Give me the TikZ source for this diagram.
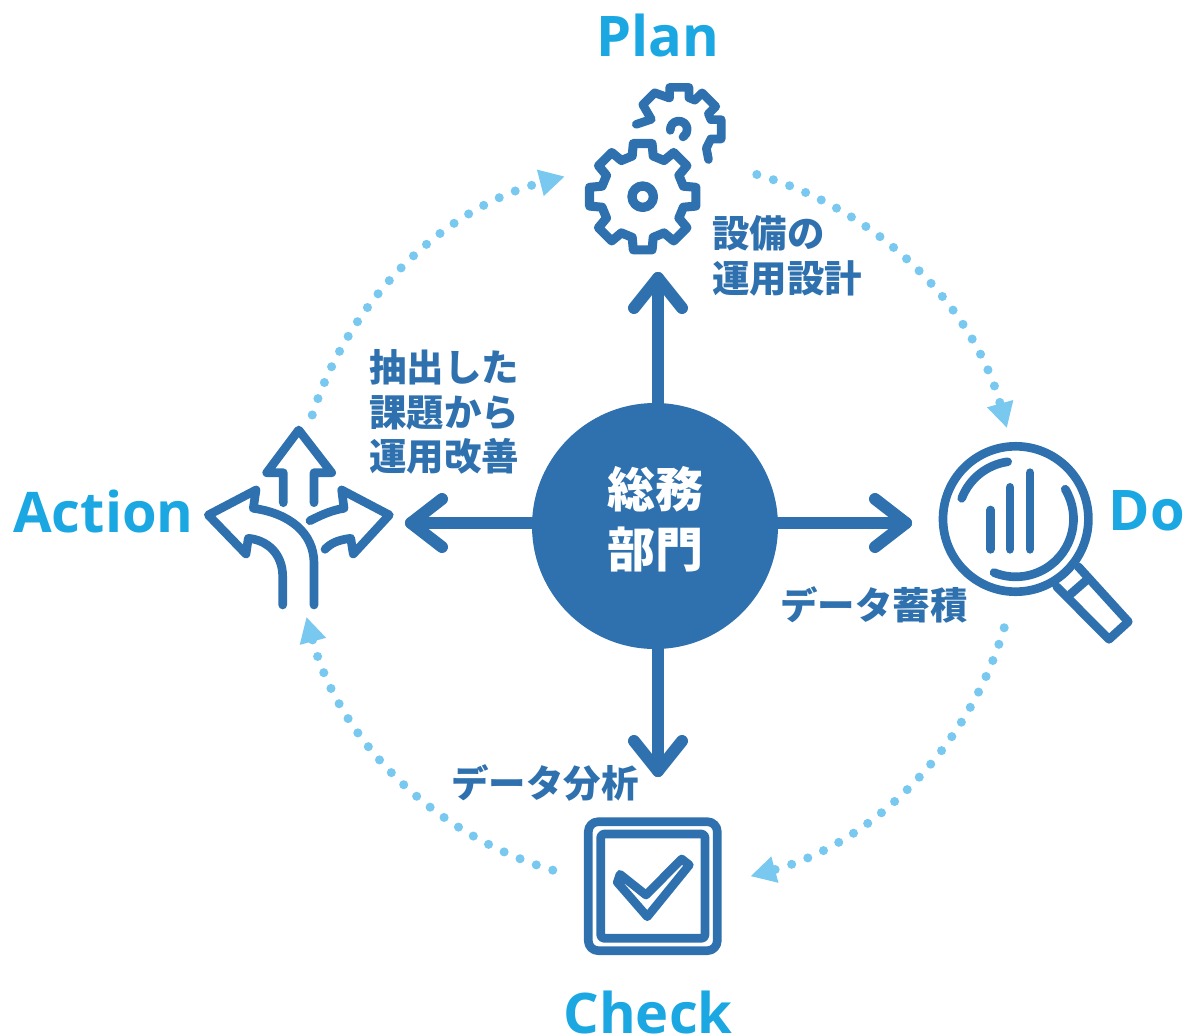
\documentclass[tikz,border=0pt]{standalone}
\usepackage{fontspec}
\setmainfont{Open Sans}
\newfontfamily\jp{Noto Sans CJK JP}
\usetikzlibrary{arrows.meta,calc}
\definecolor{iconblue}{HTML}{2E71AE}
\definecolor{titleblue}{HTML}{1BA7E1}
\definecolor{dotblue}{HTML}{78C8F0}
\tikzset{
  shaft/.style={draw=iconblue,line width=9pt,line cap=round,line join=round},
  iconline/.style={draw=iconblue,line width=6.5pt,line cap=round,line join=round},
  ringarc/.style={draw=dotblue,line width=6.8pt,line cap=round,dash pattern=on 0pt off 13pt,
    -{Triangle[length=19pt,width=19pt]}},
  titletext/.style={text=titleblue,inner sep=0pt,font=\bfseries\fontsize{42}{42}\selectfont},
  captext/.style={text=iconblue,inner sep=0pt,align=left,font=\jp\bfseries\fontsize{28.1}{33.6}\selectfont},
  hubtext/.style={text=white,inner sep=0pt,align=center,font=\jp\bfseries\fontsize{36}{45}\selectfont},
}
\begin{document}
\begin{tikzpicture}[x=0.75pt,y=-0.75pt]
\useasboundingbox (0,0) rectangle (1185,1035);

% central hub
\node[circle,fill=iconblue,minimum size=184.5pt,inner sep=0pt] (hub) at (655,526) {};
\node[hubtext] (hubt) at (655,519) {総務\\部門};

% ring of dotted arcs
\coordinate (cen) at (655,525);
\coordinate (s1) at ($(cen)+(-73.8:365)$);
\coordinate (s2) at ($(cen)+(16.4:364)$);
\coordinate (s3) at ($(cen)+(106.5:360)$);
\coordinate (s4) at ($(cen)+(197.8:360)$);
\draw[ringarc] (s1) arc[start angle=-73.8,end angle=-15.4,radius=365];
\draw[ringarc] (s2) arc[start angle=16.4,end angle=74.8,radius=364];
\draw[ringarc] (s3) arc[start angle=106.5,end angle=165.1,radius=361];
\draw[ringarc] (s4) arc[start angle=197.8,end angle=255.5,radius=360];

% thick arrows from hub
\coordinate (pT) at (658,278);
\coordinate (pB) at (658,771);
\coordinate (pL) at (411,523);
\coordinate (pR) at (906,523);
\draw[shaft] (hub.north -| pT) -- (pT);
\draw[shaft] ($(pT)+(-24,30)$) -- (pT) -- ($(pT)+(24,30)$);
\draw[shaft] (hub.south -| pB) -- (pB);
\draw[shaft] ($(pB)+(-24,-30)$) -- (pB) -- ($(pB)+(24,-30)$);
\draw[shaft] (hub.west |- pL) -- (pL);
\draw[shaft] ($(pL)+(31,-24)$) -- (pL) -- ($(pL)+(31,24)$);
\draw[shaft] (hub.east |- pR) -- (pR);
\draw[shaft] ($(pR)+(-31,-24)$) -- (pR) -- ($(pR)+(-31,24)$);

% Plan icon: two gears
\begin{scope}[shift={(642.7,196.7)}]
\draw[iconline,line width=6.8pt] (-14.5:42)
  \foreach \a in {0,45,...,315} { -- (\a-14.5:42) -- (\a-10:54) -- (\a+10:54) -- (\a+14.5:42) } -- cycle;
\draw[iconline,line width=7pt] (0,0) circle[radius=10.7];
\end{scope}
\begin{scope}[shift={(679.3,129.3)}]
\draw[iconline] (-43,-5) -- (-28,-10) -- (-146:44) -- (-124:44) -- (-108:33)
  \foreach \a in {-90,-45,0} { -- (\a-17:33) -- (\a-13:43) -- (\a+13:43) -- (\a+17:33) }
  -- (35:33) -- (46:42);
\draw[iconline] (-9,1) arc[start angle=175,end angle=420,radius=8.5];
\end{scope}

% Action icon
\draw[iconline] (283.3,502.7) -- (283.3,472.7) -- (266.7,472.7) -- (298.7,430) -- (331.7,472.7) -- (314,472.7) -- (314,502.7);
\draw[iconline] (282.7,605) -- (282.7,576.7) .. controls (282.7,553.3) and (266.7,540) .. (248.3,538.3)
  -- (246,554) -- (208.3,515) -- (256,490) -- (253.3,508.3)
  .. controls (290,513.3) and (314,533.3) .. (314,563.3) -- (314,605);
\draw[iconline] (310,520.7) .. controls (323,514) and (333,510) .. (344,508.3)
  -- (341.7,490) -- (389.3,515) -- (353.3,554) -- (350.7,538.3)
  .. controls (338,540) and (331,543) .. (325,549.3);

% Do icon
\begin{scope}[shift={(1015.7,519)}]
\draw[iconline] (0,0) circle[radius=72.7];
\draw[iconline] (-159:57.8) arc[start angle=-159,end angle=-98,radius=57.8];
\draw[iconline] (-31:57.8) arc[start angle=-31,end angle=112,radius=57.8];
\end{scope}
\draw[iconline] (990.7,510) -- (990.7,549.3);
\draw[iconline] (1010,487.3) -- (1010,549.3);
\draw[iconline] (1030,472.7) -- (1030,549.3);
\draw[iconline] (1056.7,586.7) -- (1109,639.3) -- (1128.3,621.7) -- (1078.3,566.7);
\draw[iconline] (1070.7,594) -- (1086.7,580);

% Check icon
\draw[iconline,rounded corners=7.5pt] (588.3,821.7) rectangle (717.3,950.7);
\draw[iconline,rounded corners=2.5pt] (600.7,834) rectangle (705,938.3);
\draw[iconline] (620,874.3) -- (646,895) -- (681.7,859) -- (689.3,865) -- (647.3,916.7) -- (617.3,882.3) -- cycle;

% titles
\node[titletext] (plan) at (658,35) {Plan};
\node[titletext] (action) at (103.5,511) {Action};
\node[titletext] (do) at (1147,511) {Do};
\node[titletext] (check) at (648,1012) {Check};

% captions
\node[captext,anchor=west] (c1) at (712,256) {設備の\\運用設計};
\node[captext,anchor=west] (c2) at (369,412) {抽出した\\課題から\\運用改善};
\node[captext,anchor=west] (c3) at (780,605) {データ蓄積};
\node[captext,anchor=west] (c4) at (451,783) {データ分析};
\end{tikzpicture}
\end{document}
